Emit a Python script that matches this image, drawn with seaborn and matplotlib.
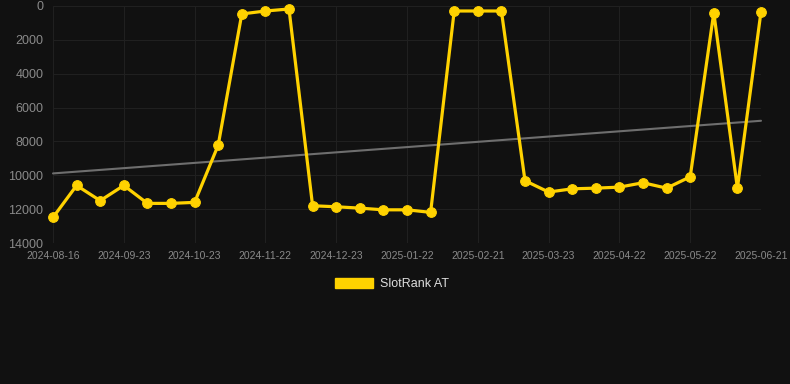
import numpy as np
import pandas as pd
import matplotlib
matplotlib.use("Agg")
import matplotlib.pyplot as plt
import seaborn as sns
from matplotlib.patches import Patch

# data
dates = ['2024-08-16', '2024-08-28', '2024-09-10', '2024-09-23', '2024-10-03', '2024-10-13',
         '2024-10-23', '2024-11-02', '2024-11-12', '2024-11-22', '2024-12-02', '2024-12-13',
         '2024-12-23', '2025-01-02', '2025-01-12', '2025-01-22', '2025-02-01', '2025-02-11',
         '2025-02-21', '2025-03-03', '2025-03-13', '2025-03-23', '2025-04-02', '2025-04-12',
         '2025-04-22', '2025-05-02', '2025-05-12', '2025-05-22', '2025-06-01', '2025-06-11',
         '2025-06-21']
ranks = [12490, 10600, 11500, 10600, 11660, 11660, 11600, 8220, 470, 295, 177,
         11800, 11860, 11940, 12040, 12040, 12190, 295, 295, 295, 10320, 10990,
         10800, 10760, 10700, 10440, 10760, 10090, 395, 10760, 336]
series_name = 'SlotRank AT'

bg = '#111111'
gold = '#FFD200'

df = pd.DataFrame({'idx': np.arange(len(dates)), 'date': dates, 'rank': ranks})

# linear trend through the ranks
m, b = np.polyfit(df['idx'], df['rank'], 1)
df['trend'] = m * df['idx'] + b

sns.set_theme(style='dark')
plt.rcParams['font.family'] = ['Liberation Sans', 'DejaVu Sans']
fig = plt.figure(figsize=(7.9, 3.84), dpi=100, facecolor=bg)
ax = fig.add_axes([53/790, 1 - 243/384, (761 - 53)/790, (243 - 6)/384])
ax.set_facecolor(bg)

sns.lineplot(data=df, x='idx', y='trend', ax=ax, color='#6e6e6e', linewidth=1.5, legend=False)
sns.lineplot(data=df, x='idx', y='rank', ax=ax, color=gold, linewidth=2.3, marker='o',
             markersize=7, markeredgecolor=gold, legend=False)
for l in ax.lines:
    l.set_clip_on(False)

ax.set_xlim(0, len(dates) - 1)
ax.set_ylim(14000, 0)
ax.set_yticks(np.arange(0, 14001, 2000))
ax.set_yticklabels([str(v) for v in range(0, 14001, 2000)])
tick_idx = list(range(0, len(dates), 3))
ax.set_xticks(tick_idx)
ax.set_xticklabels([dates[i] for i in tick_idx])
ax.set_xlabel('')
ax.set_ylabel('')

ax.grid(True, color='#202020', linewidth=0.8)
ax.tick_params(axis='y', colors='#8a8a8a', labelsize=9, length=0, pad=7)
ax.tick_params(axis='x', colors='#8a8a8a', labelsize=7.5, length=0, pad=6)
for s in ax.spines.values():
    s.set_visible(False)

fig.legend(handles=[Patch(facecolor=gold, edgecolor=gold, label=series_name)],
           loc='center', bbox_to_anchor=(392/790, 1 - 284/384), frameon=False,
           labelcolor='#dddddd', fontsize=9, handlelength=3.0, handleheight=0.9,
           handletextpad=0.6)

fig.savefig('out.png', dpi=100, facecolor=bg)
